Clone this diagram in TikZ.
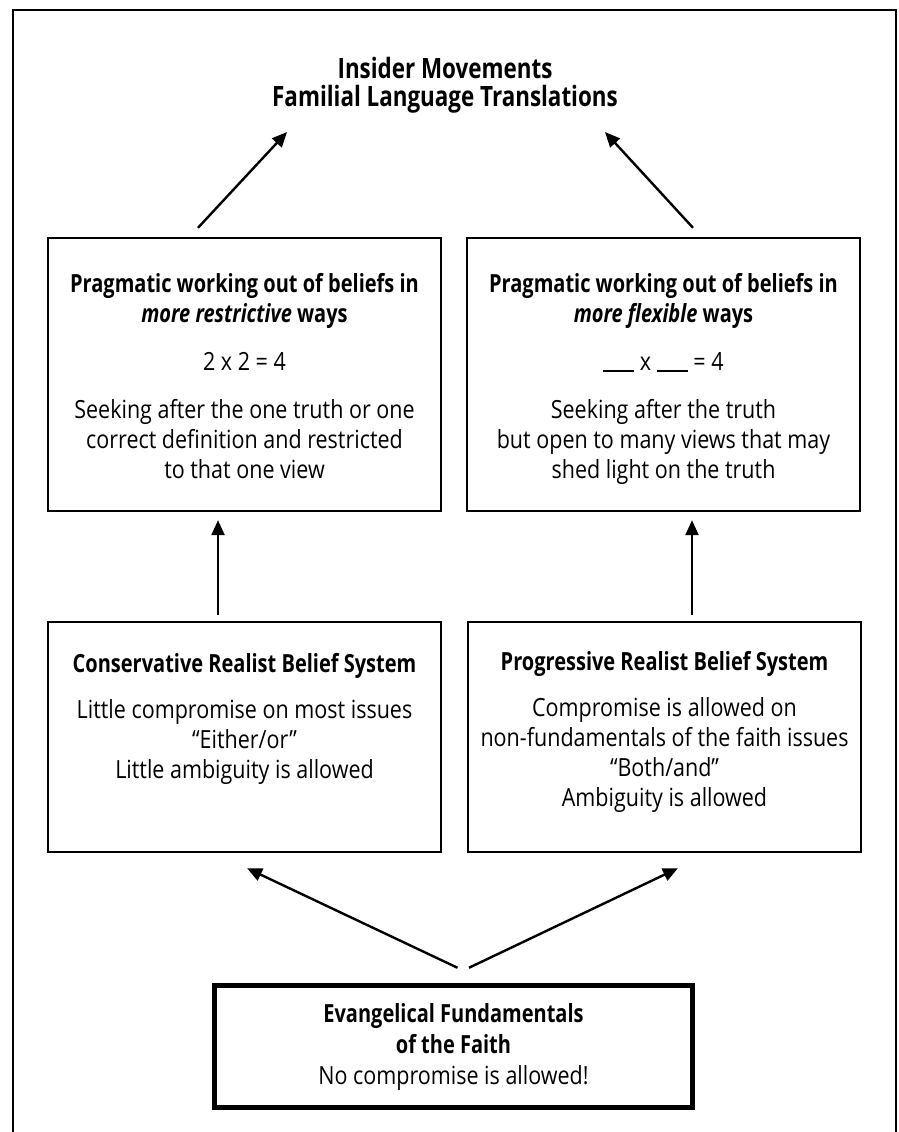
\documentclass[tikz,border=0pt]{standalone}
\usepackage{fontspec}
\setmainfont{Open Sans}[FakeStretch=0.86,
  BoldFeatures={FakeStretch=0.80},BoldItalicFeatures={FakeStretch=0.80}]
\usetikzlibrary{arrows.meta}

\begin{document}
\begin{tikzpicture}[x=1pt,y=-1pt,
  box/.style={draw,line width=2.4pt,inner sep=0pt},
  txt/.style={align=center,inner sep=0pt,anchor=north,font=\fontsize{25}{30}\selectfont},
  arr/.style={line width=2.4pt,-{Triangle[length=15pt,width=13pt]}}]
\useasboundingbox (0,0) rectangle (899,1132);
% Outer frame
\draw[line width=2.4pt] (13,1140) |- (896,10) -- (896,1140);

% Title
\node[txt,font=\fontsize{28}{28}\selectfont\bfseries\addfontfeature{FakeStretch=0.83}]
  (title) at (445,57) {Insider Movements\\Familial Language Translations};

% Upper boxes
\node[box,minimum width=393pt,minimum height=273pt] (pragL) at (244.5,374.5) {};
\node[box,minimum width=393pt,minimum height=273pt] (pragR) at (663.5,374.5) {};
\node[txt] (pragLtxt) at ([shift={(0,36.5)}]pragL.north)
  {\textbf{Pragmatic working out of beliefs in}\\\textbf{\textit{more restrictive} ways}\\[18pt]
   2 x 2 = 4\\[18pt]
   Seeking after the one truth or one\\correct definition and restricted\\to that one view};
\node[txt] (pragRtxt) at ([shift={(0,36.5)}]pragR.north)
  {\textbf{Pragmatic working out of beliefs in}\\\textbf{\textit{more flexible} ways}\\[18pt]
   \rule[-1pt]{31pt}{1.2pt} x \rule[-1pt]{31pt}{1.2pt} = 4\\[18pt]
   Seeking after the truth\\but open to many views that may\\shed light on the truth};

% Middle boxes
\node[box,minimum width=393pt,minimum height=230pt] (consL) at (244.5,737) {};
\node[box,minimum width=393pt,minimum height=230pt] (progR) at (664.5,737) {};
\node[txt] (consLtxt) at ([shift={(0,32.5)}]consL.north)
  {\textbf{Conservative Realist Belief System}\\[16pt]
   Little compromise on most issues\\“Either/or”\\Little ambiguity is allowed};
\node[txt] (progRtxt) at ([shift={(0,30.5)}]progR.north)
  {\textbf{Progressive Realist Belief System}\\[16pt]
   Compromise is allowed on\\non-fundamentals of the faith issues\\“Both/and”\\Ambiguity is allowed};

% Bottom box
\node[box,line width=5.5pt,minimum width=478pt,minimum height=122pt,align=center,
  font=\fontsize{25}{31}\selectfont] (evang) at (453.5,1046.5)
  {\textbf{Evangelical Fundamentals}\\\textbf{of the Faith}\\No compromise is allowed!};

% Arrows
\draw[arr] ([shift={(4,-15)}]evang.north) -- ([shift={(2.5,15)}]consL.south);
\draw[arr] ([shift={(15.5,-15)}]evang.north) -- ([shift={(13.5,15)}]progR.south);
\draw[arr] ([shift={(-26.5,-6)}]consL.north) -- ([shift={(-26.5,8)}]pragL.south);
\draw[arr] ([shift={(27.5,-6)}]progR.north) -- ([shift={(28.5,8)}]pragR.south);
\draw[arr] ([shift={(-46.5,-9)}]pragL.north) -- ([shift={(-158,75)}]title.north);
\draw[arr] ([shift={(29.5,-9)}]pragR.north) -- ([shift={(160,75)}]title.north);
\end{tikzpicture}
\end{document}
